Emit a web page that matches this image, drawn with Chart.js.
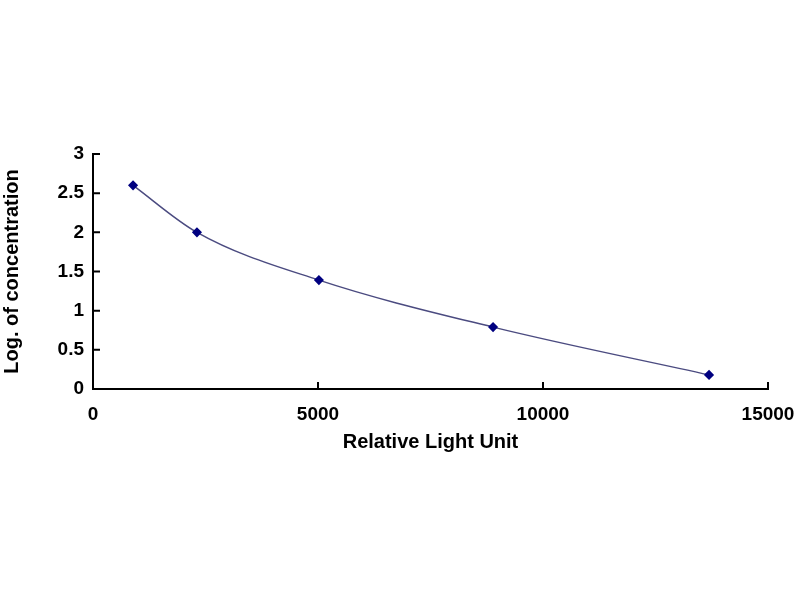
<!DOCTYPE html>
<html lang="en">
<head>
    <meta charset="UTF-8">
    <title>Standard curve</title>
    <script src="https://cdn.jsdelivr.net/npm/chart.js@4/dist/chart.umd.min.js"></script>
    <style>
        body { margin: 0; background: #fff; }
    </style>
</head>
<body>
    <canvas id="chart" width="800" height="600"></canvas>
<script>
    var rlu = [890, 2310, 5020, 8890, 13690];
    var logConc = [2.6, 2.0, 1.39, 0.79, 0.18];
    var xTicks = [0, 5000, 10000, 15000];
    var yTicks = [0, 0.5, 1, 1.5, 2, 2.5, 3];

    var points = rlu.map(function (x, i) { return { x: x, y: logConc[i] }; });
    var family = 'Liberation Sans, Arial, sans-serif';
    var tickFont = { family: family, weight: 'bold', size: 19 };
    var titleFont = { family: family, weight: 'bold', size: 20 };

    // Excel style inside tick marks
    var innerTicks = {
        id: 'innerTicks',
        afterDraw: function (chart) {
            var ctx = chart.ctx, xs = chart.scales.x, ys = chart.scales.y;
            ctx.save();
            ctx.strokeStyle = '#000';
            ctx.lineWidth = 2;
            ctx.beginPath();
            xTicks.forEach(function (v) {
                var px = xs.getPixelForValue(v);
                ctx.moveTo(px, ys.bottom);
                ctx.lineTo(px, ys.bottom - 7);
            });
            yTicks.forEach(function (v) {
                var py = ys.getPixelForValue(v);
                ctx.moveTo(xs.left, py);
                ctx.lineTo(xs.left + 7, py);
            });
            ctx.stroke();
            ctx.restore();
        }
    };

    var chart = new Chart(document.getElementById('chart'), {
        type: 'line',
        data: {
            datasets: [{
                data: points,
                borderColor: '#4b4b80',
                borderWidth: 1.5,
                backgroundColor: '#000080',
                pointBackgroundColor: '#000080',
                pointBorderColor: '#000080',
                pointStyle: 'rectRot',
                pointRadius: 4,
                cubicInterpolationMode: 'monotone',
                fill: false
            }]
        },
        options: {
            responsive: false,
            animation: false,
            layout: { padding: { top: 154, right: 32, bottom: 146, left: 0 } },
            plugins: { legend: { display: false }, tooltip: { enabled: false } },
            scales: {
                x: {
                    type: 'linear',
                    min: 0,
                    max: 15000,
                    afterBuildTicks: function (s) { s.ticks = xTicks.map(function (v) { return { value: v }; }); },
                    afterFit: function (s) { s.height = 65; s.paddingLeft = 0; s.paddingRight = 0; },
                    grid: { display: false, drawTicks: false },
                    border: { color: '#000', width: 2 },
                    ticks: { color: '#000', font: tickFont, padding: 14, maxRotation: 0,
                        callback: function (v) { return String(v); } },
                    title: { display: true, text: 'Relative Light Unit', color: '#000', font: titleFont, padding: 0 }
                },
                y: {
                    min: 0,
                    max: 3,
                    afterBuildTicks: function (s) { s.ticks = yTicks.map(function (v) { return { value: v }; }); },
                    afterFit: function (s) { s.width = 93; s.paddingTop = 0; s.paddingBottom = 0; },
                    grid: { display: false, drawTicks: false },
                    border: { color: '#000', width: 2 },
                    ticks: { color: '#000', font: tickFont, padding: 9,
                        callback: function (v) { return String(v); } },
                    title: { display: true, text: 'Log. of concentration', color: '#000', font: titleFont, padding: 0 }
                }
            }
        },
        plugins: [innerTicks]
    });
</script>
</body>
</html>
